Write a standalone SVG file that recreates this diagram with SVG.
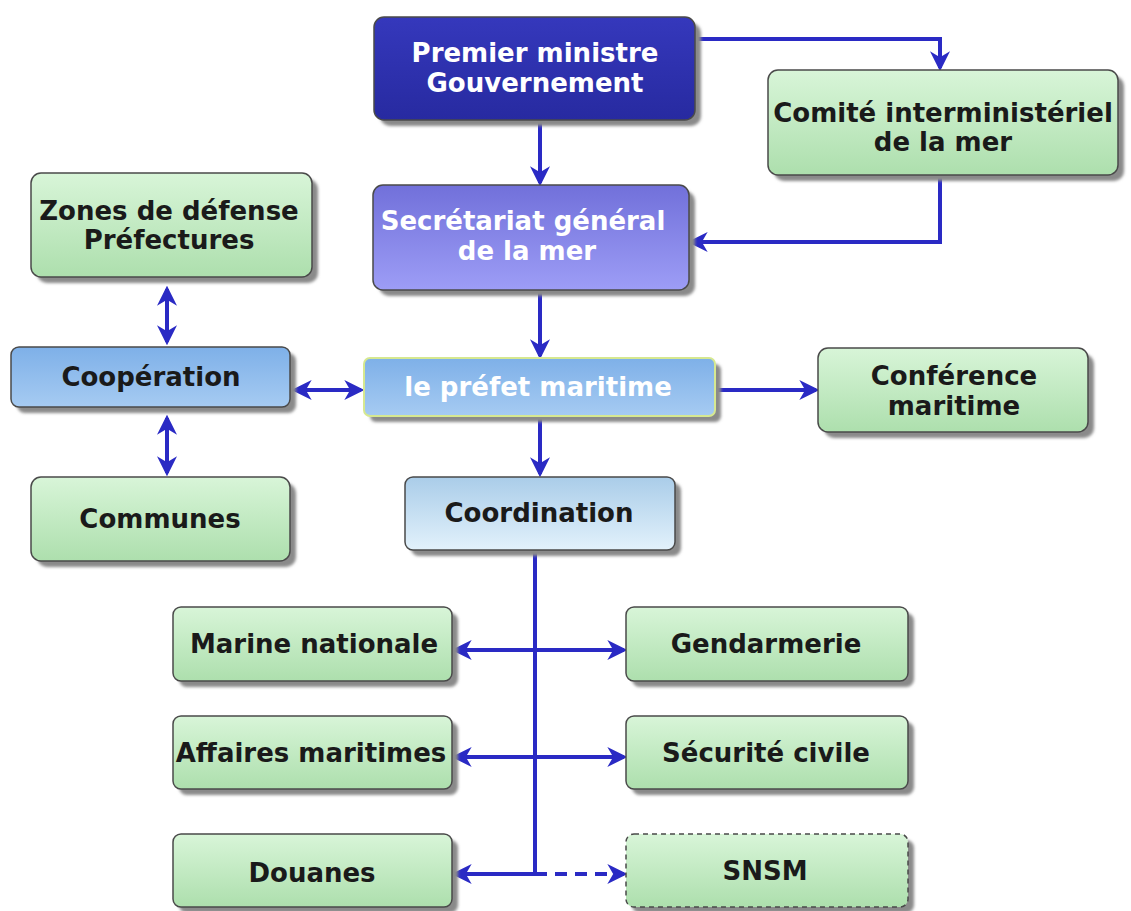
<svg xmlns="http://www.w3.org/2000/svg" width="1131" height="911" viewBox="0 0 1131 911">
<defs>
<linearGradient id="gGreen" x1="0" y1="0" x2="0" y2="1"><stop offset="0" stop-color="#d8f5d8"/><stop offset="1" stop-color="#addfad"/></linearGradient>
<linearGradient id="gDark" x1="0" y1="0" x2="0" y2="1"><stop offset="0" stop-color="#3538bc"/><stop offset="1" stop-color="#272aa0"/></linearGradient>
<linearGradient id="gLav" x1="0" y1="0" x2="0" y2="1"><stop offset="0" stop-color="#7170da"/><stop offset="1" stop-color="#9d9df6"/></linearGradient>
<linearGradient id="gBlue" x1="0" y1="0" x2="0" y2="1"><stop offset="0" stop-color="#7eb0e8"/><stop offset="1" stop-color="#a6cbf2"/></linearGradient>
<linearGradient id="gPale" x1="0" y1="0" x2="0" y2="1"><stop offset="0" stop-color="#aacde9"/><stop offset="1" stop-color="#e2f1fb"/></linearGradient>
<filter id="sh" x="-10%" y="-10%" width="130%" height="140%"><feGaussianBlur stdDeviation="1.5"/></filter>
<marker id="ah" viewBox="0 0 12 12" refX="10" refY="6" markerWidth="5" markerHeight="5" orient="auto-start-reverse" markerUnits="strokeWidth"><path d="M0,0 L12,6 L0,12 L3.5,6 z" fill="#2a2ac4"/></marker>
<style>
.box{stroke:#4a4a4a;stroke-width:1.5}
.shadow{fill:#8a8a8a;filter:url(#sh)}
.green{fill:url(#gGreen)}
.t{font-family:"DejaVu Sans",Verdana,sans-serif;font-weight:bold;font-size:26px;text-anchor:middle;fill:#1a1a1a}
.w{fill:#ffffff}
.c{fill:none;stroke:#2a2ac4;stroke-width:4}
</style>
</defs>
<rect width="1131" height="911" fill="#ffffff"/>

<g id="connectors">
<path class="c" d="M695,39 H940 V68" marker-end="url(#ah)"/>
<path class="c" d="M540,120 V183" marker-end="url(#ah)"/>
<path class="c" d="M940,175 V242 H691" marker-end="url(#ah)"/>
<path class="c" d="M540,290 V356" marker-end="url(#ah)"/>
<path class="c" d="M715,390 H816" marker-end="url(#ah)"/>
<path class="c" d="M540,416 V474" marker-end="url(#ah)"/>
<path class="c" d="M295,390 H361" marker-start="url(#ah)" marker-end="url(#ah)"/>
<path class="c" d="M167,289 V342" marker-start="url(#ah)" marker-end="url(#ah)"/>
<path class="c" d="M167,418 V473" marker-start="url(#ah)" marker-end="url(#ah)"/>
<path class="c" d="M535,550 V874"/>
<path class="c" d="M455,650 H624" marker-start="url(#ah)" marker-end="url(#ah)"/>
<path class="c" d="M455,757 H624" marker-start="url(#ah)" marker-end="url(#ah)"/>
<path class="c" d="M535,874 H455" marker-end="url(#ah)"/>
<path class="c" d="M535,874 H624" stroke-dasharray="12,8" marker-end="url(#ah)"/>
</g>

<g id="premier">
<rect class="shadow" x="380" y="23" width="321" height="103" rx="10"/>
<rect class="box" x="374" y="17" width="321" height="103" rx="10" fill="url(#gDark)" stroke="#1a1a60"/>
<text class="t w" x="535" y="62">Premier ministre</text>
<text class="t w" x="535" y="92">Gouvernement</text>
</g>

<g id="comite">
<rect class="shadow" x="774" y="76" width="350" height="105" rx="10"/>
<rect class="box green" x="768" y="70" width="350" height="105" rx="10"/>
<text class="t" x="943" y="122">Comité interministériel</text>
<text class="t" x="943" y="151">de la mer</text>
</g>

<g id="secretariat">
<rect class="shadow" x="379" y="191" width="316" height="105" rx="10"/>
<rect class="box" x="373" y="185" width="316" height="105" rx="10" fill="url(#gLav)" stroke="#2a2a70"/>
<text class="t w" x="523" y="230">Secrétariat général</text>
<text class="t w" x="527" y="260">de la mer</text>
</g>

<g id="prefet">
<rect class="shadow" x="370" y="364" width="351" height="58" rx="6"/>
<rect x="364" y="358" width="351" height="58" rx="6" fill="url(#gBlue)" stroke="#d6e890" stroke-width="2"/>
<text class="t w" x="538" y="396">le préfet maritime</text>
</g>

<g id="conference">
<rect class="shadow" x="824" y="354" width="270" height="84" rx="10"/>
<rect class="box green" x="818" y="348" width="270" height="84" rx="10"/>
<text class="t" x="954" y="385">Conférence</text>
<text class="t" x="954" y="415">maritime</text>
</g>

<g id="coordination">
<rect class="shadow" x="411" y="483" width="270" height="73" rx="8"/>
<rect class="box" x="405" y="477" width="270" height="73" rx="8" fill="url(#gPale)"/>
<text class="t" x="539" y="522">Coordination</text>
</g>

<g id="zones">
<rect class="shadow" x="37" y="179" width="281" height="104" rx="10"/>
<rect class="box green" x="31" y="173" width="281" height="104" rx="10"/>
<text class="t" x="169" y="220">Zones de défense</text>
<text class="t" x="169" y="249">Préfectures</text>
</g>

<g id="cooperation">
<rect class="shadow" x="17" y="353" width="279" height="60" rx="8"/>
<rect class="box" x="11" y="347" width="279" height="60" rx="8" fill="url(#gBlue)"/>
<text class="t" x="151" y="386">Coopération</text>
</g>

<g id="communes">
<rect class="shadow" x="37" y="483" width="259" height="84" rx="10"/>
<rect class="box green" x="31" y="477" width="259" height="84" rx="10"/>
<text class="t" x="160" y="528">Communes</text>
</g>

<g id="marine">
<rect class="shadow" x="179" y="613" width="279" height="74" rx="8"/>
<rect class="box green" x="173" y="607" width="279" height="74" rx="8"/>
<text class="t" x="314" y="653">Marine nationale</text>
</g>

<g id="gendarmerie">
<rect class="shadow" x="632" y="613" width="282" height="74" rx="8"/>
<rect class="box green" x="626" y="607" width="282" height="74" rx="8"/>
<text class="t" x="766" y="653">Gendarmerie</text>
</g>

<g id="affaires">
<rect class="shadow" x="179" y="722" width="279" height="73" rx="8"/>
<rect class="box green" x="173" y="716" width="279" height="73" rx="8"/>
<text class="t" x="311" y="762">Affaires maritimes</text>
</g>

<g id="securite">
<rect class="shadow" x="632" y="722" width="282" height="73" rx="8"/>
<rect class="box green" x="626" y="716" width="282" height="73" rx="8"/>
<text class="t" x="766" y="762">Sécurité civile</text>
</g>

<g id="douanes">
<rect class="shadow" x="179" y="840" width="279" height="73" rx="8"/>
<rect class="box green" x="173" y="834" width="279" height="73" rx="8"/>
<text class="t" x="312" y="882">Douanes</text>
</g>

<g id="snsm">
<rect class="shadow" x="632" y="840" width="282" height="73" rx="8"/>
<rect class="box green" x="626" y="834" width="282" height="73" rx="8" stroke-dasharray="5,4"/>
<text class="t" x="765" y="880">SNSM</text>
</g>
</svg>
